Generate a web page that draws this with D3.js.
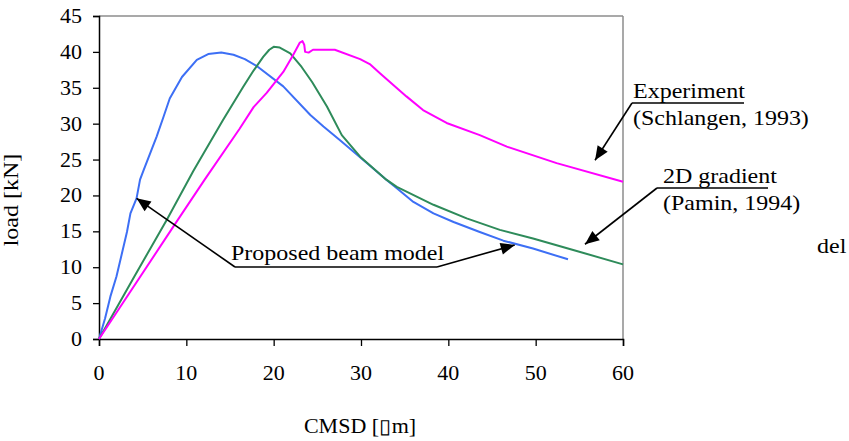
<!DOCTYPE html>
<html><head><meta charset="utf-8">
<script src="https://cdn.jsdelivr.net/npm/d3@7"></script>
<style>
html,body{margin:0;padding:0;background:#fff;}
svg{display:block;}
text{font-family:"Liberation Serif","Times New Roman",serif;fill:#000;}
</style></head>
<body>
<svg id="chart" width="849" height="441"></svg>
<script>
// ---- data ----
const xTicks = [0, 10, 20, 30, 40, 50, 60];
const yTicks = [0, 5, 10, 15, 20, 25, 30, 35, 40, 45];
const xLabel = "CMSD [\u25AFm]";
const yLabel = "load [kN]";

const beamX = [0, 0.7, 1.3, 2.0, 3.2, 3.6, 4.3, 4.7, 5.1, 6.0, 6.6, 7.4, 8.1, 9.5, 11.2, 12.5, 14.0, 15.4, 16.7, 18.1, 21.1, 24.2, 25.7, 27.6, 30.7, 32.9, 34.1, 36.0, 38.3, 40.6, 43.6, 46.3, 49.7, 53.7];
const beamY = [0, 2.9, 5.9, 8.7, 14.9, 17.5, 19.6, 22.2, 23.5, 26.3, 28.2, 31.0, 33.5, 36.5, 38.9, 39.7, 39.9, 39.6, 39.0, 38.0, 35.2, 31.2, 29.6, 27.7, 24.5, 22.2, 21.0, 19.1, 17.5, 16.3, 14.9, 13.7, 12.6, 11.1];

const gradX = [0, 4, 7.8, 10.8, 14.2, 16.5, 17.7, 18.8, 19.5, 20.0, 20.7, 21.9, 23.2, 24.4, 26.1, 27.8, 29.9, 32.9, 34.1, 38.3, 42.1, 45.9, 49.7, 54.3, 60];
const gradY = [0, 8.6, 16.7, 23.4, 30.5, 35.1, 37.4, 39.3, 40.3, 40.7, 40.6, 39.8, 37.9, 35.8, 32.4, 28.4, 25.4, 22.2, 21.2, 18.7, 16.8, 15.2, 14.0, 12.4, 10.4];

const expX = [0, 8.7, 12.1, 16.1, 17.7, 19.2, 21.1, 22.2, 23.0, 23.3, 23.5, 23.6, 24.0, 24.5, 27.0, 29.9, 31.0, 32.2, 35.2, 37.1, 39.8, 43.6, 46.7, 52.4, 60];
const expY = [0, 16.0, 22.2, 29.3, 32.3, 34.3, 37.2, 39.5, 41.3, 41.5, 41.0, 40.0, 39.9, 40.3, 40.3, 39.0, 38.3, 37.0, 33.8, 31.9, 30.1, 28.4, 26.8, 24.5, 21.9];

const seriesNames = ["Proposed beam model", "2D gradient", "Experiment"];
const seriesSources = ["", "(Pamin, 1994)", "(Schlangen, 1993)"];
const seriesColors = ["#3d6ff5", "#2e8b5a", "#ff00ff"];
// arrow targets in data units
const beamTips = [[4.3, 19.6], [47.6, 13.1]];
const gradTip = [55.65, 13.2];
const expTip = [56.8, 24.9];

// ---- layout ----
const svg = d3.select("#chart");
const x = d3.scaleLinear().domain([0, 60]).range([99, 623]);
const y = d3.scaleLinear().domain([0, 45]).range([339, 16]);
const SX = 1.2;
const FS = 20;

function txt(str, px, py, anchor, rot, sx) {
  const t = svg.append("text")
    .attr("font-size", FS)
    .attr("text-anchor", anchor || "start")
    .attr("transform", `translate(${px},${py})` + (rot ? ` rotate(${rot})` : "") + ` scale(${sx || SX},1)`)
    .text(str);
  return t;
}

// frame
svg.append("line").attr("x1", x(0)).attr("x2", x(60)).attr("y1", y(45)).attr("y2", y(45))
  .attr("stroke", "#8c8c8c").attr("stroke-width", 1.5);
svg.append("line").attr("x1", x(60)).attr("x2", x(60)).attr("y1", y(45)).attr("y2", y(0))
  .attr("stroke", "#8c8c8c").attr("stroke-width", 1.5);

// axes
const xAxis = svg.append("g").attr("transform", `translate(0,${y(0)})`)
  .call(d3.axisBottom(x).tickValues(xTicks).tickSize(7).tickFormat(""));
const yAxis = svg.append("g").attr("transform", `translate(${x(0)},0)`)
  .call(d3.axisLeft(y).tickValues(yTicks).tickSize(6).tickFormat(""));
[xAxis, yAxis].forEach(g => {
  g.select(".domain").attr("stroke", "#000").attr("stroke-width", 1.5);
  g.selectAll(".tick line").attr("stroke", "#000").attr("stroke-width", 1.3);
});
xTicks.forEach(v => txt(String(v), x(v), 380, "middle", 0, 1.1));
yTicks.forEach(v => txt(String(v), 82, y(v) + 7, "end", 0, 1.1));

txt(yLabel, 18, 200, "middle", -90);
txt(xLabel, 360, 433, "middle", 0, 1.1);

// series
const line = d3.line().x(d => x(d[0])).y(d => y(d[1]));
const series = [
  d3.zip(beamX, beamY),
  d3.zip(gradX, gradY),
  d3.zip(expX, expY)
];
series.forEach((s, i) => {
  svg.append("path").datum(s).attr("d", line)
    .attr("fill", "none").attr("stroke", seriesColors[i]).attr("stroke-width", 2)
    .attr("stroke-linejoin", "round");
});

// arrow helper
function arrow(x1, y1, x2, y2) {
  svg.append("line").attr("x1", x1).attr("y1", y1).attr("x2", x2).attr("y2", y2)
    .attr("stroke", "#000").attr("stroke-width", 1.6);
  const a = Math.atan2(y2 - y1, x2 - x1);
  const L = 14, W = 6;
  const bx = x2 - L * Math.cos(a), by = y2 - L * Math.sin(a);
  const p = [[x2, y2],
    [bx + W * Math.sin(a), by - W * Math.cos(a)],
    [bx - W * Math.sin(a), by + W * Math.cos(a)]];
  svg.append("polygon").attr("points", p.map(q => q.join(",")).join(" ")).attr("fill", "#000");
}
function hline(x1, x2, yy) {
  svg.append("line").attr("x1", x1).attr("x2", x2).attr("y1", yy).attr("y2", yy)
    .attr("stroke", "#000").attr("stroke-width", 1.6);
}

// Proposed beam model
txt(seriesNames[0], 231, 260, "start");
hline(235, 437, 267);
arrow(235, 267, x(beamTips[0][0]), y(beamTips[0][1]));
arrow(437, 267, x(beamTips[1][0]), y(beamTips[1][1]));

// Experiment
txt(seriesNames[2], 633, 98, "start");
txt(seriesSources[2], 633, 125, "start");
hline(632, 744, 103);
arrow(632, 103, x(expTip[0]), y(expTip[1]));

// 2D gradient
txt(seriesNames[1], 663, 183, "start");
txt(seriesSources[1], 663, 210, "start");
hline(657, 768, 188);
arrow(657, 188, x(gradTip[0]), y(gradTip[1]));

// stray text
txt("del", 817, 253, "start");
</script>
</body></html>
